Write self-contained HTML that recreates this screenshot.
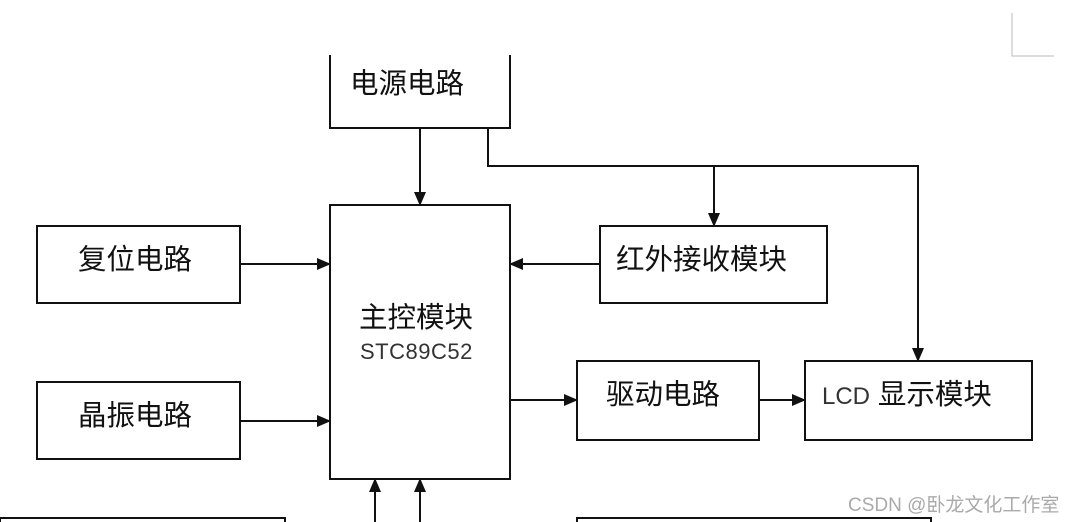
<!DOCTYPE html>
<html><head><meta charset="utf-8"><style>
body{margin:0;background:#fff;}
.c{position:absolute;font-family:"Liberation Sans","Noto Sans CJK SC",sans-serif;color:#111;white-space:nowrap;}
</style></head><body>
<div style="position:relative;width:1072px;height:522px;overflow:hidden;">
<svg width="1072" height="522" style="position:absolute;left:0;top:0" fill="none" stroke="#111" stroke-width="2">
<defs><marker id="b" markerWidth="14" markerHeight="12" refX="13" refY="6" orient="auto" markerUnits="userSpaceOnUse"><path d="M0,0 L14,6 L0,12 Z" fill="#111" stroke="none"/></marker></defs>
<path d="M330,55 V128 H510 V55"/>
<rect x="330" y="205" width="180" height="274"/>
<rect x="37" y="226" width="203" height="77"/>
<rect x="37" y="382" width="203" height="77"/>
<rect x="600" y="226" width="227" height="77"/>
<rect x="577" y="361" width="182" height="79"/>
<rect x="805" y="361" width="227" height="79"/>
<rect x="0" y="518" width="285" height="10"/>
<rect x="577" y="518" width="354" height="10"/>
<line x1="420" y1="128" x2="420" y2="205" marker-end="url(#b)"/>
<path d="M488,128 V166 H918 V361" marker-end="url(#b)"/>
<line x1="714" y1="166" x2="714" y2="226" marker-end="url(#b)"/>
<line x1="240" y1="264" x2="330" y2="264" marker-end="url(#b)"/>
<line x1="240" y1="421" x2="330" y2="421" marker-end="url(#b)"/>
<line x1="600" y1="264" x2="510" y2="264" marker-end="url(#b)"/>
<line x1="510" y1="400" x2="577" y2="400" marker-end="url(#b)"/>
<line x1="759" y1="400" x2="805" y2="400" marker-end="url(#b)"/>
<line x1="375" y1="522" x2="375" y2="479" marker-end="url(#b)"/>
<line x1="420" y1="522" x2="420" y2="479" marker-end="url(#b)"/>
<path d="M1012,13 V56 H1054" stroke="#bbb" stroke-width="1"/>
</svg>
<div class="c" style="left:350px;top:61px;font-size:28.5px;">电源电路</div>
<div class="c" style="left:78px;top:237px;font-size:28.5px;">复位电路</div>
<div class="c" style="left:78px;top:393px;font-size:28.5px;">晶振电路</div>
<div class="c" style="left:359px;top:295px;font-size:28.5px;">主控模块</div>
<div class="c" style="left:360px;top:339px;font-size:22px;color:#333;letter-spacing:0.5px;">STC89C52</div>
<div class="c" style="left:616px;top:237px;font-size:28.5px;">红外接收模块</div>
<div class="c" style="left:606px;top:372px;font-size:28.5px;">驱动电路</div>
<div class="c" style="left:822px;top:372px;font-size:28.5px;"><span style="font-size:24px;color:#333">LCD</span> 显示模块</div>
<div class="c" style="left:848px;top:490px;font-size:19px;color:#aaa;">CSDN @卧龙文化工作室</div>
</div>
</body></html>
